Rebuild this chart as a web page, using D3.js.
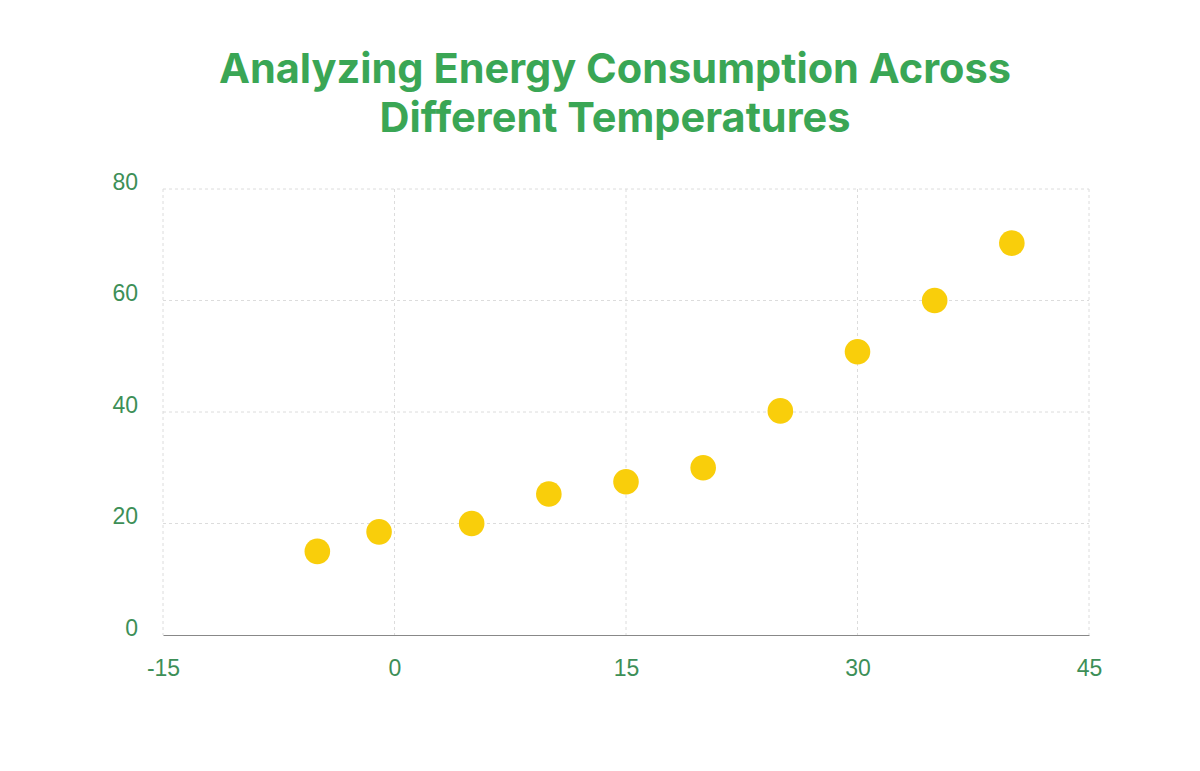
<!DOCTYPE html>
<html><head><meta charset="utf-8">
<script src="https://cdn.jsdelivr.net/npm/d3@7"></script>
<style>body{margin:0;background:#fff;}</style>
</head><body>
<svg id="chart" width="1200" height="771"></svg>
<script>
const temperatures = [-5, -1, 5, 10, 15, 20, 25, 30, 35, 40];
const consumption = [15, 18.5, 20, 25.3, 27.5, 30, 40.2, 50.8, 60, 70.3];
const xTicks = [-15, 0, 15, 30, 45];
const yTicks = [0, 20, 40, 60, 80];
const titleLines = ["Analyzing Energy Consumption Across", "Different Temperatures"];

const svg = d3.select("#chart");
const mLeft = 163, mRight = 1089, mTop = 189, mBottom = 635;
const x = d3.scaleLinear().domain([-15, 45]).range([mLeft, mRight]);
const y = d3.scaleLinear().domain([0, 80]).range([mBottom, mTop]);
const labelColor = "#3d8f57";

// title
svg.append("g").selectAll("text").data(titleLines).join("text")
  .attr("x", 615).attr("y", (d, i) => 83 + i * 49)
  .attr("text-anchor", "middle")
  .attr("font-family", "Inter, 'DejaVu Sans', sans-serif")
  .attr("font-weight", 700).attr("font-size", 41.5)
  .attr("fill", "#3aa655")
  .text(d => d);

// grid
const grid = svg.append("g");
grid.selectAll("line.v").data(xTicks).join("line").attr("class", "v")
  .attr("x1", d => x(d)).attr("x2", d => x(d)).attr("y1", mTop).attr("y2", mBottom)
  .attr("stroke", "#dcdcdc").attr("stroke-width", 1).attr("stroke-dasharray", "3,3");
grid.selectAll("line.h").data(yTicks.filter(d => d > 0)).join("line").attr("class", "h")
  .attr("x1", mLeft).attr("x2", mRight).attr("y1", d => y(d)).attr("y2", d => y(d))
  .attr("stroke", "#dcdcdc").attr("stroke-width", 1).attr("stroke-dasharray", "3,3");

// x axis
const xAxis = svg.append("g").attr("transform", `translate(0,${mBottom})`)
  .call(d3.axisBottom(x).tickValues(xTicks).tickSize(0).tickPadding(25).tickFormat(d => String(d)));
xAxis.select(".domain").attr("stroke", "#888").attr("stroke-width", 1.2);
xAxis.selectAll("text").attr("fill", labelColor).attr("font-size", 23)
  .attr("font-family", "'Liberation Sans', Arial, sans-serif");

// y axis
const yAxis = svg.append("g").attr("transform", `translate(${mLeft},0)`)
  .call(d3.axisLeft(y).tickValues(yTicks).tickSize(0).tickPadding(25).tickFormat(d => String(d)));
yAxis.select(".domain").remove();
yAxis.selectAll("text").attr("fill", labelColor).attr("font-size", 23)
  .attr("font-family", "'Liberation Sans', Arial, sans-serif")
  .attr("dy", "0em");

// points
svg.append("g").selectAll("circle").data(temperatures).join("circle")
  .attr("cx", d => x(d)).attr("cy", (d, i) => y(consumption[i]))
  .attr("r", 12.8).attr("fill", "#f9ce0b");
</script>
</body></html>
